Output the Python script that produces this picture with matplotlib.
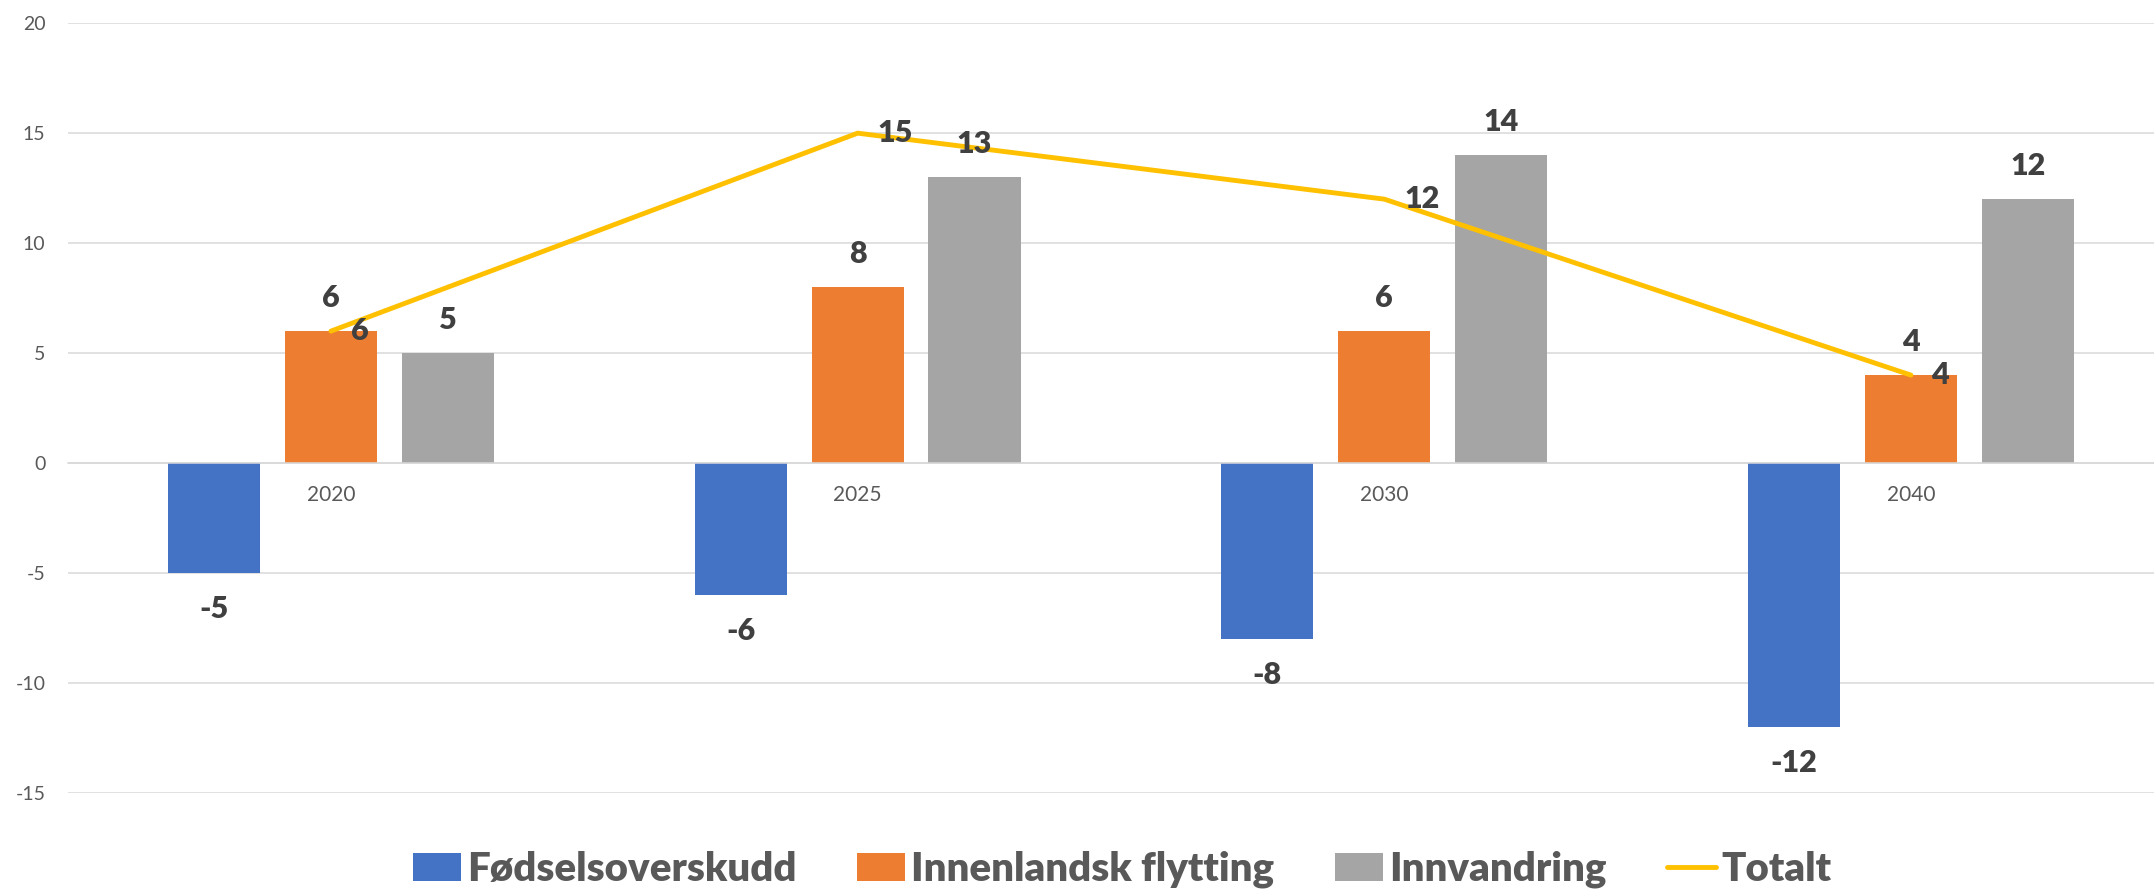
import matplotlib
matplotlib.use("Agg")
import matplotlib.pyplot as plt
import numpy as np

plt.rcParams["font.family"] = ["Lato", "DejaVu Sans"]

years = ["2020", "2025", "2030", "2040"]
fodsel = [-5, -6, -8, -12]
innenlandsk = [6, 8, 6, 4]
innvandring = [5, 13, 14, 12]
totalt = [6, 15, 12, 4]
yticks = [-15, -10, -5, 0, 5, 10, 15, 20]

c_blue = "#4472C4"
c_orange = "#ED7D31"
c_grey = "#A5A5A5"
c_gold = "#FFC000"
c_lab = "#404040"
c_tick = "#595959"

fig = plt.figure(figsize=(21.54, 8.92), dpi=100)
ax = fig.add_axes([0.0314, 0.111, 0.978, 0.863])

x = np.arange(len(years))
w = 0.175
off = 0.222

series = [(fodsel, c_blue, "Fødselsoverskudd", -off),
          (innenlandsk, c_orange, "Innenlandsk flytting", 0),
          (innvandring, c_grey, "Innvandring", off)]

for vals, col, name, o in series:
    bars = ax.bar(x + o, vals, width=w, color=col, label=name, zorder=2)
    for b, v in zip(bars, vals):
        dy = 33 if v >= 0 else -36
        ax.annotate(str(v), (b.get_x() + b.get_width() / 2, v),
                    xytext=(0, dy), textcoords="offset pixels",
                    ha="center", va="center", fontsize=22,
                    fontweight="heavy", color=c_lab, zorder=5)

ax.plot(x, totalt, color=c_gold, lw=3.5, label="Totalt", zorder=3,
        solid_capstyle="round")
for xi, v in zip(x, totalt):
    ax.annotate(str(v), (xi, v), xytext=(20, 0), textcoords="offset pixels",
                ha="left", va="center", fontsize=22, fontweight="heavy",
                color=c_lab, zorder=5)

ax.set_xlim(-0.5, 3.5)
ax.set_ylim(-15, 20)
ax.set_yticks(yticks)
ax.set_yticklabels([str(t) for t in yticks])
ax.set_xticks(x)
ax.set_xticklabels(years)
ax.yaxis.grid(True, color="#D9D9D9", lw=1.1, zorder=0)
ax.set_axisbelow(True)

for s in ["top", "right", "left"]:
    ax.spines[s].set_visible(False)
ax.spines["bottom"].set_position(("data", 0))
ax.spines["bottom"].set_color("#D9D9D9")
ax.spines["bottom"].set_linewidth(1.1)

ax.tick_params(axis="y", length=0, pad=16, labelsize=14, labelcolor=c_tick)
ax.tick_params(axis="x", length=0, pad=16, labelsize=15, labelcolor=c_tick)

handles, labels = ax.get_legend_handles_labels()
order = [labels.index(n) for n in
         ["Fødselsoverskudd", "Innenlandsk flytting", "Innvandring", "Totalt"]]
fig.legend([handles[i] for i in order], [labels[i] for i in order],
           loc="center", bbox_to_anchor=(0.521, 0.025), ncol=4,
           frameon=False, labelcolor=c_tick,
           prop={"weight": "heavy", "size": 29},
           handlelength=1.2, handleheight=0.7, handletextpad=0.15,
           columnspacing=1.5)

fig.savefig("out.png", dpi=100)
